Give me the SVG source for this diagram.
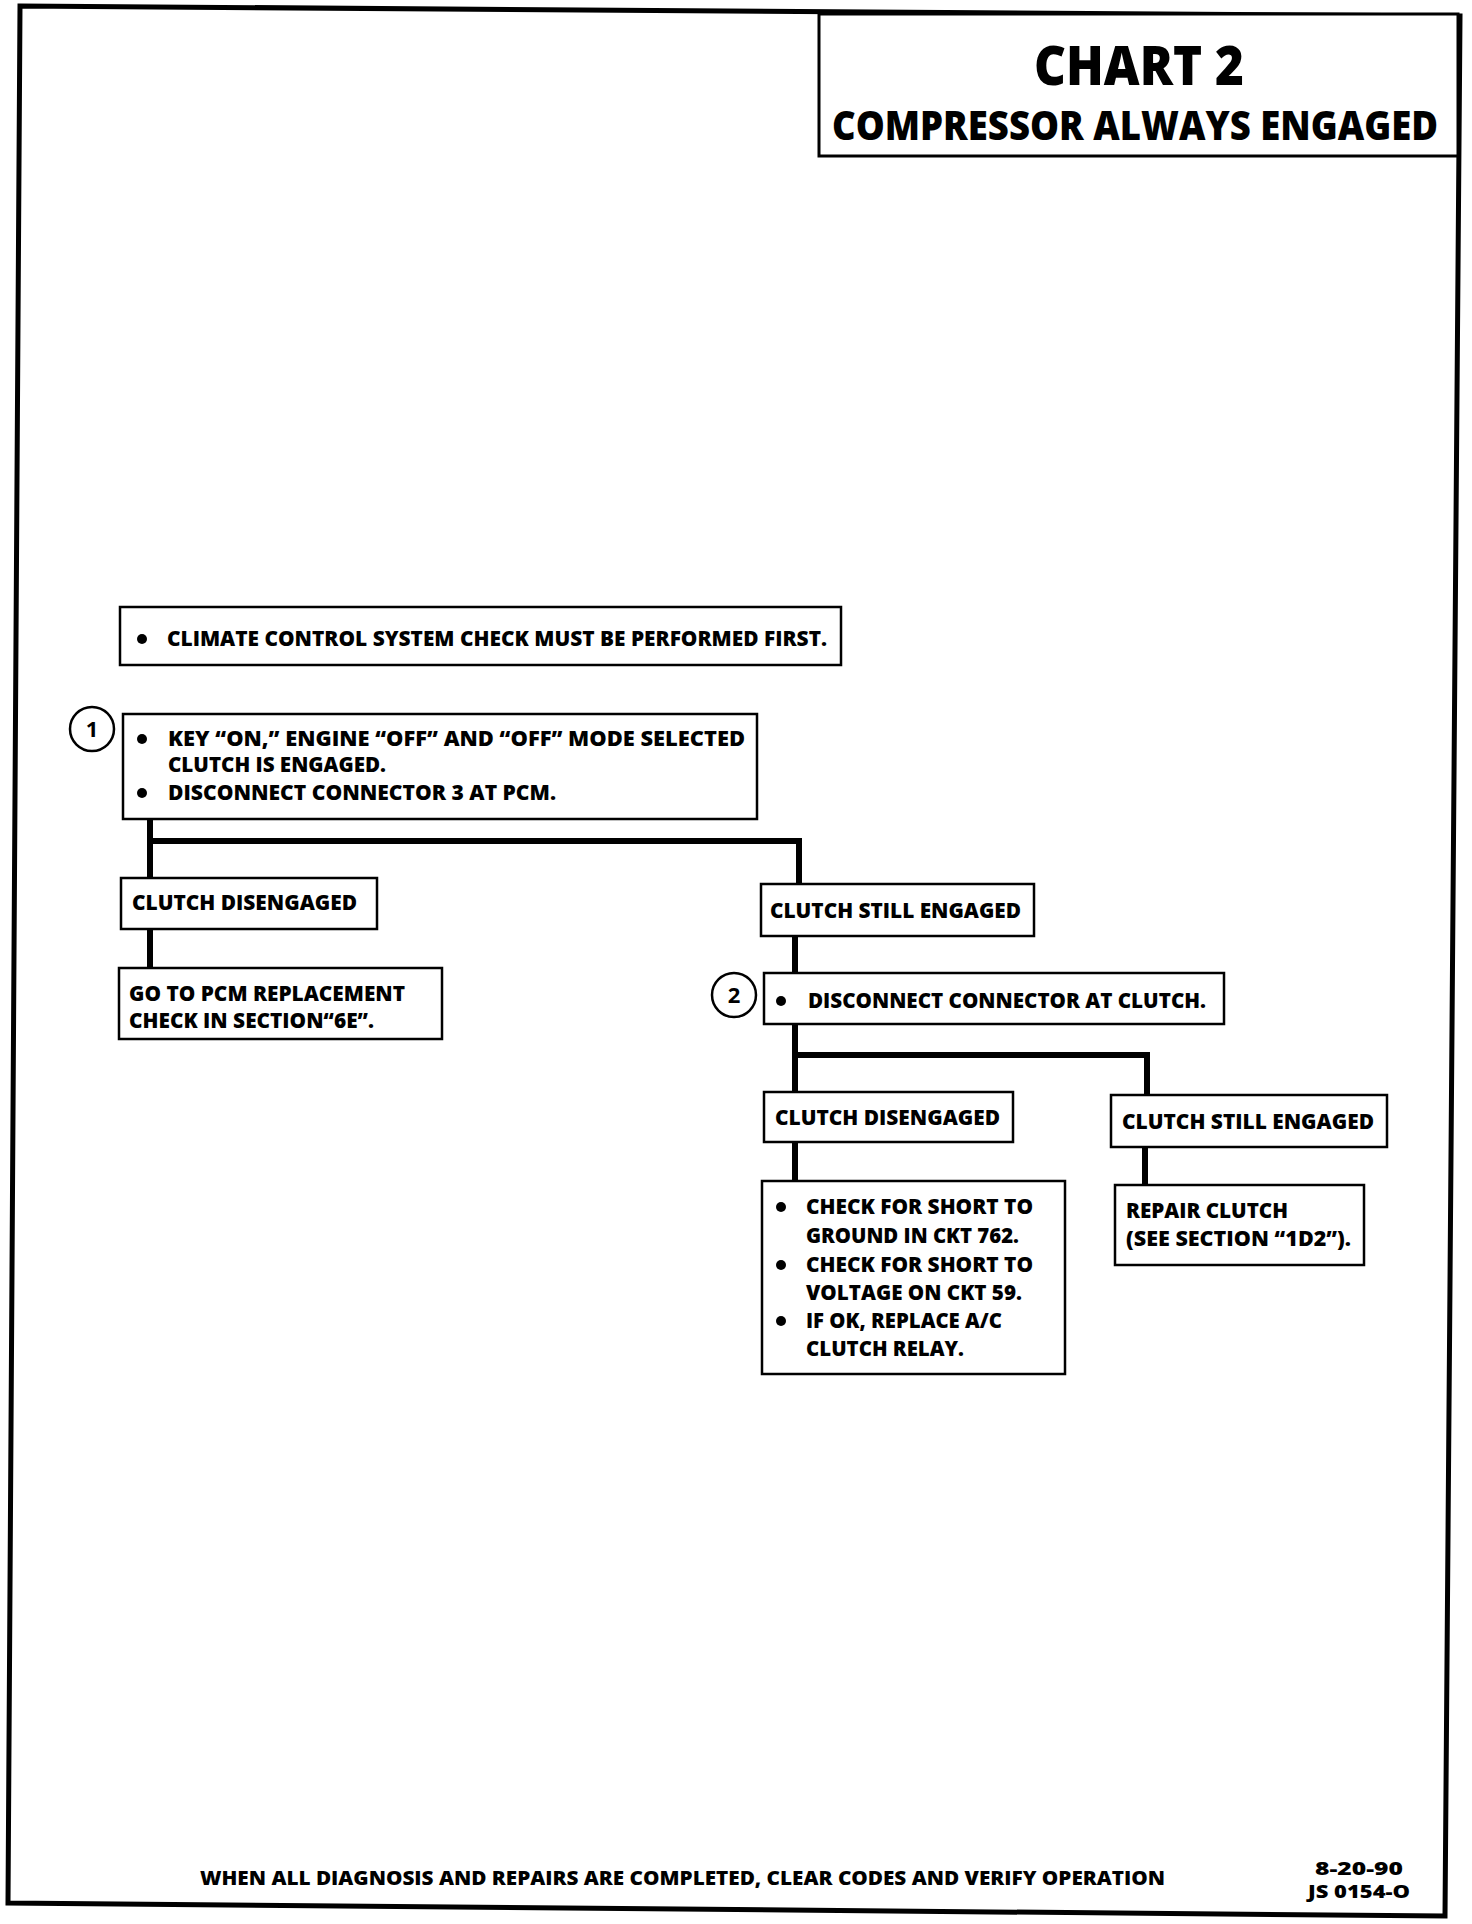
<svg xmlns="http://www.w3.org/2000/svg" width="1472" height="1924" viewBox="0 0 1472 1924">
<style>
  .t { font-family: "Open Sans", "Liberation Sans", sans-serif; font-weight: 800; fill: #000; font-size: 21px; }
  .h1 { font-size: 54px; }
  .h2 { font-size: 40px; }
  .ft { font-size: 19px; }
  .fs { font-size: 17px; }
  .box { fill: #fff; stroke: #000; stroke-width: 2.5; }
  .wire { fill: none; stroke: #000; stroke-width: 6; stroke-linecap: square; }
  .num { fill: #fff; stroke: #000; stroke-width: 2.5; }
  .numt { font-family: "Open Sans", "Liberation Sans", sans-serif; font-weight: bold; font-size: 22px; text-anchor: middle; }
</style>
<rect width="1472" height="1924" fill="#fff"/>
<polygon points="20,6 1460,16 1445,1916 8,1903" fill="none" stroke="#000" stroke-width="5"/>

<g id="title">
  <rect x="819" y="14" width="639" height="142" fill="#fff" stroke="#000" stroke-width="3"/>
  <text class="t h1" x="1034" y="85" textLength="210" lengthAdjust="spacingAndGlyphs">CHART 2</text>
  <text class="t h2" x="832" y="140" textLength="606" lengthAdjust="spacingAndGlyphs">COMPRESSOR ALWAYS ENGAGED</text>
</g>

<g id="connectors">
  <polyline class="wire" points="150,820 150,878"/>
  <polyline class="wire" points="150,841 799,841 799,884"/>
  <polyline class="wire" points="150,929 150,968"/>
  <polyline class="wire" points="795,936 795,973"/>
  <polyline class="wire" points="795,1024 795,1092"/>
  <polyline class="wire" points="795,1055 1147,1055 1147,1095"/>
  <polyline class="wire" points="795,1142 795,1181"/>
  <polyline class="wire" points="1145,1147 1145,1185"/>
</g>

<g id="n0">
  <rect class="box" x="120" y="607" width="721" height="58"/>
  <circle cx="142" cy="639" r="5"/>
  <text class="t" x="167" y="646" textLength="660" lengthAdjust="spacingAndGlyphs">CLIMATE CONTROL SYSTEM CHECK MUST BE PERFORMED FIRST.</text>
</g>

<g id="n1">
  <circle class="num" cx="92" cy="729" r="22"/>
  <text class="numt" x="92" y="737">1</text>
  <rect class="box" x="123" y="714" width="634" height="105"/>
  <circle cx="142" cy="739" r="5"/>
  <text class="t" x="168" y="746" textLength="577" lengthAdjust="spacingAndGlyphs">KEY “ON,” ENGINE “OFF”  AND “OFF” MODE  SELECTED</text>
  <text class="t" x="168" y="772" textLength="218" lengthAdjust="spacingAndGlyphs">CLUTCH IS ENGAGED.</text>
  <circle cx="142" cy="793" r="5"/>
  <text class="t" x="168" y="800" textLength="388" lengthAdjust="spacingAndGlyphs">DISCONNECT CONNECTOR  3  AT PCM.</text>
</g>

<g id="n2">
  <rect class="box" x="121" y="878" width="256" height="51"/>
  <text class="t" x="132" y="910" textLength="225" lengthAdjust="spacingAndGlyphs">CLUTCH DISENGAGED</text>
</g>

<g id="n3">
  <rect class="box" x="119" y="968" width="323" height="71"/>
  <text class="t" x="129" y="1001" textLength="276" lengthAdjust="spacingAndGlyphs">GO TO PCM REPLACEMENT</text>
  <text class="t" x="129" y="1028" textLength="245" lengthAdjust="spacingAndGlyphs">CHECK IN SECTION“6E”.</text>
</g>

<g id="n4">
  <rect class="box" x="761" y="884" width="273" height="52"/>
  <text class="t" x="770" y="918" textLength="251" lengthAdjust="spacingAndGlyphs">CLUTCH STILL ENGAGED</text>
</g>

<g id="n5">
  <circle class="num" cx="734" cy="995" r="22"/>
  <text class="numt" x="734" y="1003">2</text>
  <rect class="box" x="764" y="973" width="460" height="51"/>
  <circle cx="781" cy="1001" r="5"/>
  <text class="t" x="808" y="1008" textLength="398" lengthAdjust="spacingAndGlyphs">DISCONNECT CONNECTOR AT CLUTCH.</text>
</g>

<g id="n6">
  <rect class="box" x="764" y="1092" width="249" height="50"/>
  <text class="t" x="775" y="1125" textLength="225" lengthAdjust="spacingAndGlyphs">CLUTCH DISENGAGED</text>
</g>

<g id="n7">
  <rect class="box" x="1111" y="1095" width="276" height="52"/>
  <text class="t" x="1122" y="1129" textLength="252" lengthAdjust="spacingAndGlyphs">CLUTCH STILL ENGAGED</text>
</g>

<g id="n8">
  <rect class="box" x="762" y="1181" width="303" height="193"/>
  <circle cx="781" cy="1207" r="5"/>
  <text class="t" x="806" y="1214" textLength="227" lengthAdjust="spacingAndGlyphs">CHECK FOR SHORT TO</text>
  <text class="t" x="806" y="1243" textLength="213" lengthAdjust="spacingAndGlyphs">GROUND IN CKT 762.</text>
  <circle cx="781" cy="1265" r="5"/>
  <text class="t" x="806" y="1272" textLength="227" lengthAdjust="spacingAndGlyphs">CHECK FOR SHORT TO</text>
  <text class="t" x="806" y="1300" textLength="216" lengthAdjust="spacingAndGlyphs">VOLTAGE ON CKT 59.</text>
  <circle cx="781" cy="1321" r="5"/>
  <text class="t" x="806" y="1328" textLength="196" lengthAdjust="spacingAndGlyphs">IF OK, REPLACE A/C</text>
  <text class="t" x="806" y="1356" textLength="158" lengthAdjust="spacingAndGlyphs">CLUTCH RELAY.</text>
</g>

<g id="n9">
  <rect class="box" x="1115" y="1185" width="249" height="80"/>
  <text class="t" x="1126" y="1218" textLength="162" lengthAdjust="spacingAndGlyphs">REPAIR CLUTCH</text>
  <text class="t" x="1126" y="1246" textLength="225" lengthAdjust="spacingAndGlyphs">(SEE SECTION “1D2”).</text>
</g>

<g id="footer">
  <text class="t ft" x="200" y="1885" textLength="965" lengthAdjust="spacingAndGlyphs">WHEN ALL DIAGNOSIS AND REPAIRS ARE COMPLETED, CLEAR CODES AND VERIFY OPERATION</text>
  <text class="t fs" x="1359" y="1875" text-anchor="middle" textLength="88" lengthAdjust="spacingAndGlyphs">8-20-90</text>
  <text class="t fs" x="1359" y="1898" text-anchor="middle" textLength="102" lengthAdjust="spacingAndGlyphs">JS 0154-O</text>
</g>
</svg>
